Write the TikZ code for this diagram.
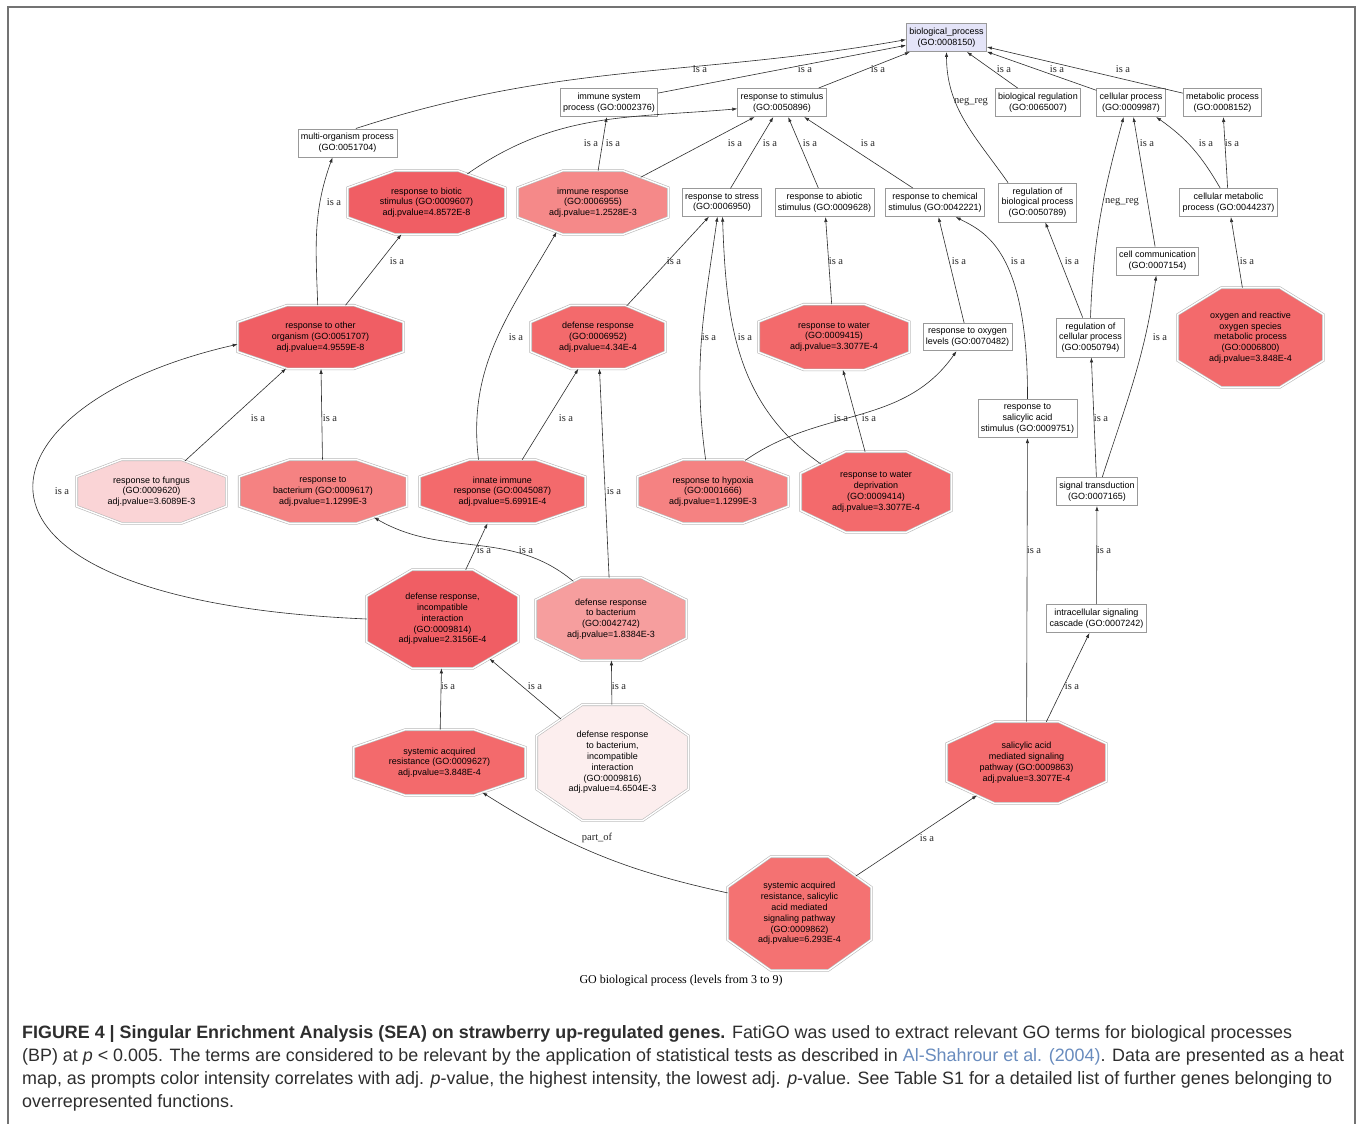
\documentclass[tikz,border=0pt]{standalone}
\usepackage{fontspec}
\setmainfont{Liberation Serif}
\setsansfont{Liberation Sans}
\usetikzlibrary{arrows.meta}

\definecolor{bpfill}{RGB}{228,228,248}
\definecolor{heatA}{RGB}{240,94,100}
\definecolor{heatB}{RGB}{243,106,108}
\definecolor{heatBB}{RGB}{244,114,114}
\definecolor{heatC}{RGB}{245,130,130}
\definecolor{heatD}{RGB}{245,137,137}
\definecolor{heatE}{RGB}{246,158,158}
\definecolor{heatF}{RGB}{250,212,214}
\definecolor{heatG}{RGB}{252,238,238}
\definecolor{edgegray}{RGB}{45,45,45}
\definecolor{citeblue}{RGB}{105,140,190}

% Stretched octagon for the enriched terms.
\makeatletter
\pgfkeys{/pgf/octo cut x/.initial=10pt, /pgf/octo cut y/.initial=10pt}
\def\octo@corners{%
  \southwest \edef\octoL{\the\pgf@x}\edef\octoB{\the\pgf@y}%
  \northeast \edef\octoR{\the\pgf@x}\edef\octoT{\the\pgf@y}%
}
\pgfdeclareshape{gooctagon}{%
  \inheritsavedanchors[from=rectangle]%
  \inheritanchor[from=rectangle]{center}%
  \inheritanchor[from=rectangle]{north}%
  \inheritanchor[from=rectangle]{south}%
  \inheritanchor[from=rectangle]{east}%
  \inheritanchor[from=rectangle]{west}%
  \inheritanchor[from=rectangle]{base}%
  \savedmacro\octocx{\pgfmathsetlength\pgf@xa{\pgfkeysvalueof{/pgf/octo cut x}}\edef\octocx{\the\pgf@xa}}%
  \savedmacro\octocy{\pgfmathsetlength\pgf@ya{\pgfkeysvalueof{/pgf/octo cut y}}\edef\octocy{\the\pgf@ya}}%
  \backgroundpath{%
    \octo@corners
    \pgfpathmoveto{\pgfpoint{\octoL+\octocx}{\octoT}}%
    \pgfpathlineto{\pgfpoint{\octoR-\octocx}{\octoT}}%
    \pgfpathlineto{\pgfpoint{\octoR}{\octoT-\octocy}}%
    \pgfpathlineto{\pgfpoint{\octoR}{\octoB+\octocy}}%
    \pgfpathlineto{\pgfpoint{\octoR-\octocx}{\octoB}}%
    \pgfpathlineto{\pgfpoint{\octoL+\octocx}{\octoB}}%
    \pgfpathlineto{\pgfpoint{\octoL}{\octoB+\octocy}}%
    \pgfpathlineto{\pgfpoint{\octoL}{\octoT-\octocy}}%
    \pgfpathclose
  }%
  \anchorborder{%
    \edef\octodx{\the\pgf@x}\edef\octody{\the\pgf@y}%
    \octo@corners
    \pgfmathsetmacro\octoa{(\octoR-\octoL)/2}%
    \pgfmathsetmacro\octob{(\octoT-\octoB)/2}%
    \pgfmathsetmacro\octocxn{\octocx}%
    \pgfmathsetmacro\octocyn{\octocy}%
    \pgfmathsetmacro\octolen{max(veclen(\octodx,\octody),0.001)}%
    \pgfmathsetmacro\octoux{abs(\octodx)/\octolen}%
    \pgfmathsetmacro\octouy{abs(\octody)/\octolen}%
    \pgfmathsetmacro\octoK{\octoa*\octocyn+\octob*\octocxn-\octocxn*\octocyn}%
    \pgfmathsetmacro\octot{min(\octoa/max(\octoux,0.01),\octob/max(\octouy,0.01),\octoK/(\octocyn*\octoux+\octocxn*\octouy))}%
    \pgfmathsetmacro\octopx{(\octoR+\octoL)/2+\octot*\octodx/\octolen}%
    \pgfmathsetmacro\octopy{(\octoT+\octoB)/2+\octot*\octody/\octolen}%
    \pgf@x=\octopx pt\relax
    \pgf@y=\octopy pt\relax
  }%
}
\makeatother

\tikzset{
  goterm/.style={draw=black!40, line width=0.8pt, fill=white,
    font=\sffamily\fontsize{9}{10.8}\selectfont, align=center,
    inner xsep=3pt, inner ysep=4.5pt},
  hitterm/.style n args={3}{shape=gooctagon, fill=#3, draw=black!28,
    double=white, double distance=1.4pt, line width=0.6pt,
    font=\sffamily\fontsize{9}{10.8}\selectfont, align=center, inner sep=0pt,
    minimum width=#1pt, minimum height=#2pt,
    octo cut x={0.3*#1pt}, octo cut y={0.27*#2pt}},
  isa/.style={edgegray, line width=0.6pt, -{Latex[length=5pt,width=3.4pt]}},
  lbl/.style={font=\fontsize{10.5}{12}\selectfont, inner sep=0pt, text=black!85},
  captext/.style={font=\sffamily\fontsize{17.9}{20}\selectfont, text=black!82, inner sep=0pt, anchor=base west}
}

\begin{document}
\begin{tikzpicture}[x=1pt, y=1pt]
\fill[white] (0,0) rectangle (1358,-1124);
\useasboundingbox (0,0) rectangle (1358,-1124);
\draw[black!55, line width=1.3pt] (8,-1124) -- (8,-7) -- (1355,-7) -- (1355,-1124);

% Plain GO terms.
\node[goterm, fill=bpfill] (bp) at (946.5,-37.5) {biological\_process\\(GO:0008150)};
\node[goterm] (immsys) at (609,-102.5) {immune system\\process (GO:0002376)};
\node[goterm] (stim) at (782,-102.5) {response to stimulus\\(GO:0050896)};
\node[goterm] (multiorg) at (347.5,-143) {multi-organism process\\(GO:0051704)};
\node[goterm] (bioreg) at (1038,-102.5) {biological regulation\\(GO:0065007)};
\node[goterm] (cellproc) at (1131,-102.5) {cellular process\\(GO:0009987)};
\node[goterm] (metab) at (1222.5,-102.5) {metabolic process\\(GO:0008152)};
\node[goterm] (stress) at (722,-202.5) {response to stress\\(GO:0006950)};
\node[goterm] (abiotic) at (824.5,-202.5) {response to abiotic\\stimulus (GO:0009628)};
\node[goterm] (chem) at (935,-202.5) {response to chemical\\stimulus (GO:0042221)};
\node[goterm] (regbio) at (1037.5,-202.5) {regulation of\\biological process\\(GO:0050789)};
\node[goterm] (cellmet) at (1228.5,-202.5) {cellular metabolic\\process (GO:0044237)};
\node[goterm] (cellcomm) at (1157.5,-261) {cell communication\\(GO:0007154)};
\node[goterm] (oxylev) at (967.5,-337) {response to oxygen\\levels (GO:0070482)};
\node[goterm] (regcell) at (1090.5,-337.5) {regulation of\\cellular process\\(GO:0050794)};
\node[goterm] (salstim) at (1027.5,-418.5) {response to\\salicylic acid\\stimulus (GO:0009751)};
\node[goterm] (sigtrans) at (1097,-491.5) {signal transduction\\(GO:0007165)};
\node[goterm] (intracasc) at (1096.5,-618.5) {intracellular signaling\\cascade (GO:0007242)};

% Enriched GO terms.
\node[hitterm={157}{63}{heatA}] (biotic) at (426.5,-202.5) {response to biotic\\stimulus (GO:0009607)\\adj.pvalue=4.8572E-8};
\node[hitterm={150}{63}{heatD}] (immresp) at (593,-202.5) {immune response\\(GO:0006955)\\adj.pvalue=1.2528E-3};
\node[hitterm={165}{63}{heatA}] (otherorg) at (320.5,-337) {response to other\\organism (GO:0051707)\\adj.pvalue=4.9559E-8};
\node[hitterm={134}{63}{heatB}] (defresp) at (598,-337) {defense response\\(GO:0006952)\\adj.pvalue=4.34E-4};
\node[hitterm={150}{65}{heatB}] (water) at (834,-337) {response to water\\(GO:0009415)\\adj.pvalue=3.3077E-4};
\node[hitterm={145}{99}{heatB}] (ros) at (1250.5,-337.5) {oxygen and reactive\\oxygen species\\metabolic process\\(GO:0006800)\\adj.pvalue=3.848E-4};
\node[hitterm={149}{63}{heatF}] (fungus) at (151.5,-491.5) {response to fungus\\(GO:0009620)\\adj.pvalue=3.6089E-3};
\node[hitterm={167}{63}{heatC}] (bact) at (323,-491.5) {response to\\bacterium (GO:0009617)\\adj.pvalue=1.1299E-3};
\node[hitterm={165}{63}{heatB}] (innate) at (502.5,-491.5) {innate immune\\response (GO:0045087)\\adj.pvalue=5.6991E-4};
\node[hitterm={150}{63}{heatC}] (hypoxia) at (713,-491.5) {response to hypoxia\\(GO:0001666)\\adj.pvalue=1.1299E-3};
\node[hitterm={150}{80}{heatB}] (waterdep) at (876,-492) {response to water\\deprivation\\(GO:0009414)\\adj.pvalue=3.3077E-4};
\node[hitterm={151}{98}{heatA}] (defincomp) at (442.5,-619) {defense response,\\incompatible\\interaction\\(GO:0009814)\\adj.pvalue=2.3156E-4};
\node[hitterm={150}{82}{heatE}] (defbact) at (611,-619) {defense response\\to bacterium\\(GO:0042742)\\adj.pvalue=1.8384E-3};
\node[hitterm={171}{65}{heatB}] (sar) at (439.5,-762.5) {systemic acquired\\resistance (GO:0009627)\\adj.pvalue=3.848E-4};
\node[hitterm={151}{115}{heatG}] (defbactinc) at (612.5,-762.5) {defense response\\to bacterium,\\incompatible\\interaction\\(GO:0009816)\\adj.pvalue=4.6504E-3};
\node[hitterm={159}{81}{heatB}] (samsp) at (1026.5,-762.5) {salicylic acid\\mediated signaling\\pathway (GO:0009863)\\adj.pvalue=3.3077E-4};
\node[hitterm={143}{113}{heatBB}] (sarsa) at (799.5,-913.5) {systemic acquired\\resistance, salicylic\\acid mediated\\signaling pathway\\(GO:0009862)\\adj.pvalue=6.293E-4};

% Straight relations.
\foreach \a/\b in {immsys/bp, stim/bp, bioreg/bp, cellproc/bp, metab/bp,
    immresp/immsys, immresp/stim, stress/stim, abiotic/stim, chem/stim,
    cellcomm/cellproc, cellmet/metab, otherorg/biotic, defresp/stress,
    water/abiotic, oxylev/chem, regcell/regbio, ros/cellmet, innate/defresp,
    fungus/otherorg, bact/otherorg, waterdep/water, sigtrans/regcell,
    defbact/defresp, defincomp/innate, intracasc/sigtrans, samsp/salstim,
    sar/defincomp, defbactinc/defincomp, defbactinc/defbact, samsp/intracasc,
    sarsa/samsp}
    \draw[isa] (\a) -- (\b);

% Curved relations.
\draw[isa] (multiorg.60) to[out=18, in=190] (bp.183);
\draw[isa] (regbio.146) to[out=125, in=-90] (bp.south);
\draw[isa] (biotic.35) to[out=35, in=185] (stim.188);
\draw[isa] (otherorg.95) to[out=92, in=250] (multiorg.224);
\draw[isa] (innate.127) to[out=97, in=240] (immresp.219);
\draw[isa] (hypoxia.103) to[out=98, in=262] (stress.252);
\draw[isa] (waterdep.153) to[out=145, in=-88] (stress.272);
\draw[isa] (hypoxia.44) to[out=35, in=235] (oxylev.232);
\draw[isa] (salstim.north) .. controls (1028,-250) and (985,-232) .. (chem.-35);
\draw[isa] (regcell.north) to[out=88, in=255] (cellproc.243);
\draw[isa] (cellmet.120) to[out=120, in=-35] (cellproc.-30);
\draw[isa] (sigtrans.70) to[out=72, in=262] (cellcomm.265);
\draw[isa] (defbact.135) to[out=140, in=-30] (bact.-27);
\draw[isa] (defincomp.west) .. controls (-80,-600) and (-30,-405) .. (otherorg.185);
\draw[isa] (sarsa.164) to[bend left=10] (sar.-35);

% Relation labels.
\foreach \x/\y [count=\i] in {700/69, 805/69, 878/69, 1004/69, 1057/69, 1123/69,
    591/143, 613/143, 735/143, 770/143, 810/143, 868/143, 1147/143, 1206/143, 1232/143,
    334/202, 397/261, 674/261, 836/261, 959/261, 1018/261, 1072/261, 1247/261,
    516/337, 709/337, 745/337, 1160/337,
    258/418, 330/418, 566/418, 841/418, 869/418, 1101/418,
    62/491, 614/491, 484/550, 526/550, 1034/550, 1104/550,
    448/686, 535/686, 619/686, 1072/686, 927/838}
    \node[lbl] (isa\i) at (\x,-\y) {is a};
\node[lbl] (negreg1) at (971,-102) {neg\_reg};
\node[lbl] (negreg2) at (1122,-202) {neg\_reg};
\node[lbl] (partof) at (597,-838) {part\_of};

\node[font=\fontsize{12}{14}\selectfont, anchor=base, inner sep=0pt] (levels) at (681,-983) {GO biological process (levels from 3 to 9)};

% Figure caption.
\node[captext] (cap1) at (22,-1038) {\textbf{FIGURE 4 | Singular Enrichment Analysis (SEA) on strawberry up-regulated genes.} FatiGO was used to extract relevant GO terms for biological processes};
\node[captext] (cap2) at (22,-1061) {(BP) at \textit{p} < 0.005. The terms are considered to be relevant by the application of statistical tests as described in \textcolor{citeblue}{Al-Shahrour et al. (2004)}. Data are presented as a heat};
\node[captext] (cap3) at (22,-1084) {map, as prompts color intensity correlates with adj. \textit{p}-value, the highest intensity, the lowest adj. \textit{p}-value. See Table S1 for a detailed list of further genes belonging to};
\node[captext] (cap4) at (22,-1107) {overrepresented functions.};
\end{tikzpicture}
\end{document}
